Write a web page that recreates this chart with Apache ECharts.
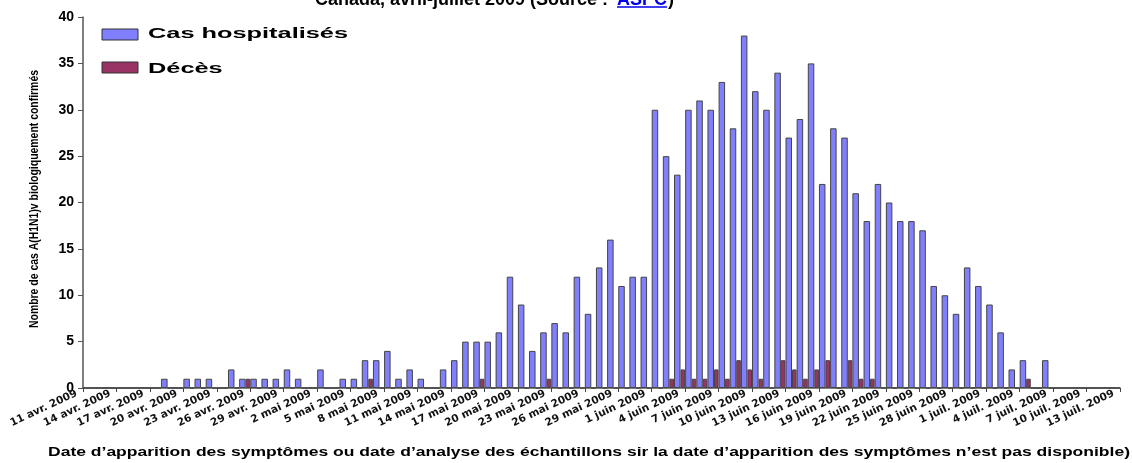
<!DOCTYPE html>
<html>
<head>
<meta charset="utf-8">
<script src="https://cdn.jsdelivr.net/npm/echarts@6/dist/echarts.min.js"></script>
<style>html,body{margin:0;padding:0;background:#fff}#c{width:1132px;height:463px}</style>
</head>
<body>
<div id="c"></div>
<script>
// Tick labels shown every 3 days (at the start of the day)
const tickLabels = ["11 avr. 2009","14 avr. 2009","17 avr. 2009","20 avr. 2009","23 avr. 2009","26 avr. 2009","29 avr. 2009","2 mai 2009","5 mai 2009","8 mai 2009","11 mai 2009","14 mai 2009","17 mai 2009","20 mai 2009","23 mai 2009","26 mai 2009","29 mai 2009","1 juin 2009","4 juin 2009","7 juin 2009","10 juin 2009","13 juin 2009","16 juin 2009","19 juin 2009","22 juin 2009","25 juin 2009","28 juin 2009","1 juil. 2009","4 juil. 2009","7 juil. 2009","10 juil. 2009","13 juil. 2009"];

// Daily categories: 11 avr. 2009 .. 12 juil. 2009 (93 days)
const months = ["janv.","févr.","mars","avr.","mai","juin","juil."];
const categories = [];
for (let i = 0; i < 93; i++) {
  const d = new Date(2009, 3, 11 + i);
  categories.push(d.getDate() + " " + months[d.getMonth()] + " 2009");
}

// Cas hospitalisés (per day)
const hospitalises = [
  0,0,0,0,0,0,0,1,0,1,
  1,1,0,2,1,1,1,1,2,1,
  0,2,0,1,1,3,3,4,1,2,
  1,0,2,3,5,5,5,6,12,9,
  4,6,7,6,12,8,13,16,11,12,
  12,30,25,23,30,31,30,33,28,38,
  32,30,34,27,29,35,22,28,27,21,
  18,22,20,18,18,17,11,10,8,13,
  11,9,6,2,3,0,3,0,0,0,
  0,0,0
];
// Décès (per day)
const deces = [
  0,0,0,0,0,0,0,0,0,0,
  0,0,0,0,1,0,0,0,0,0,
  0,0,0,0,0,1,0,0,0,0,
  0,0,0,0,0,1,0,0,0,0,
  0,1,0,0,0,0,0,0,0,0,
  0,0,1,2,1,1,2,1,3,2,
  1,0,3,2,1,2,3,0,3,1,
  1,0,0,0,0,0,0,0,0,0,
  0,0,0,0,1,0,0,0,0,0,
  0,0,0
];

const seriesNames = ['Cas hospitalisés', 'Décès'];
const seriesColors = ['#8080ff', '#993366'];
const yTitle = 'Nombre de cas A(H1N1)v biologiquement confirmés';
const xTitle = "Date d’apparition des symptômes ou date d’analyse des échantillons sir la date d’apparition des symptômes n’est pas disponible)";
const headText = 'Canada, avril-juillet 2009 (Source : ';
const headLink = 'ASPC';

const mctx = document.createElement('canvas').getContext('2d');
function textWidth(t, font) { mctx.font = font; return mctx.measureText(t).width; }

const yFont = 'bold 12px "Liberation Sans"';
const yScale = 258 / textWidth(yTitle, yFont);
const xFont = 'bold 12.5px "Liberation Sans"';
const xScale = 1082 / textWidth(xTitle, xFont);
const lgFont = 'bold 15px "Liberation Sans"';
const lgScale = 200 / textWidth(seriesNames[0], lgFont);
const hFont = 'bold 18px "Liberation Sans"';
const linkW = textWidth(headLink, hFont);

const chart = echarts.init(document.getElementById('c'));
chart.setOption({
  animation: false,
  backgroundColor: '#fff',
  grid: {left: 83, right: 12, top: 17, bottom: 75, containLabel: false},
  xAxis: [
    {
      type: 'category', data: categories, boundaryGap: true,
      axisLine: {show: true, lineStyle: {color: '#555', width: 1.5}},
      axisTick: {show: false}, axisLabel: {show: false}, splitLine: {show: false}
    },
    {
      type: 'category', data: tickLabels, boundaryGap: false, position: 'bottom',
      axisLine: {show: false},
      axisTick: {show: true, interval: 0, length: 4, lineStyle: {color: '#444'}},
      axisLabel: {interval: 0, rotate: 25, margin: 2, padding: [0, 7, 0, 0],
        fontFamily: 'DejaVu Sans', fontWeight: 'bold', fontSize: 10.5, color: '#111'},
      splitLine: {show: false}
    }
  ],
  yAxis: {
    type: 'value', min: 0, max: 40, interval: 5,
    axisLine: {show: true, lineStyle: {color: '#555', width: 1.5}},
    axisTick: {show: true, inside: false, length: 5, lineStyle: {color: '#555'}},
    axisLabel: {fontFamily: 'Liberation Sans', fontWeight: 'bold', fontSize: 14, color: '#000', margin: 9},
    splitLine: {show: false}
  },
  series: [
    {
      name: seriesNames[0], type: 'bar', data: hospitalises,
      barGap: '0%', barWidth: 6.5,
      itemStyle: {color: seriesColors[0], borderColor: '#444', borderWidth: 1}
    },
    {
      name: seriesNames[1], type: 'bar', data: deces,
      barWidth: 4.6,
      itemStyle: {color: seriesColors[1], borderColor: '#444', borderWidth: 1}
    }
  ],
  graphic: [
    // partially cut-off heading at the very top
    {
      type: 'text', x: 613, y: 9,
      style: {text: headText, font: hFont, fill: '#000', align: 'right', verticalAlign: 'bottom'}
    },
    {
      type: 'text', x: 617, y: 9,
      style: {text: headLink, font: hFont, fill: '#0000ee', align: 'left', verticalAlign: 'bottom'}
    },
    {type: 'line', shape: {x1: 617, y1: 7, x2: 617 + linkW, y2: 7}, style: {stroke: '#0000ee', lineWidth: 1.5}},
    {
      type: 'text', x: 618 + linkW, y: 9,
      style: {text: ')', font: hFont, fill: '#000', align: 'left', verticalAlign: 'bottom'}
    },
    // legend
    {type: 'rect', shape: {x: 102, y: 29, width: 36, height: 11}, style: {fill: seriesColors[0], stroke: '#333', lineWidth: 1}},
    {type: 'rect', shape: {x: 102, y: 62, width: 36, height: 11}, style: {fill: seriesColors[1], stroke: '#333', lineWidth: 1}},
    {
      type: 'text', x: 148, y: 34, scaleX: lgScale,
      style: {text: seriesNames[0], font: lgFont, fill: '#000', verticalAlign: 'middle', align: 'left'}
    },
    {
      type: 'text', x: 148, y: 69, scaleX: lgScale,
      style: {text: seriesNames[1], font: lgFont, fill: '#000', verticalAlign: 'middle', align: 'left'}
    },
    // y axis title
    {
      type: 'text', x: 35, y: 199, rotation: Math.PI / 2, scaleX: yScale,
      style: {text: yTitle, font: yFont, fill: '#000', align: 'center', verticalAlign: 'middle'}
    },
    // x axis title
    {
      type: 'text', x: 48, y: 453, scaleX: xScale,
      style: {text: xTitle, font: xFont, fill: '#000', align: 'left', verticalAlign: 'middle'}
    }
  ]
});
</script>
</body>
</html>
